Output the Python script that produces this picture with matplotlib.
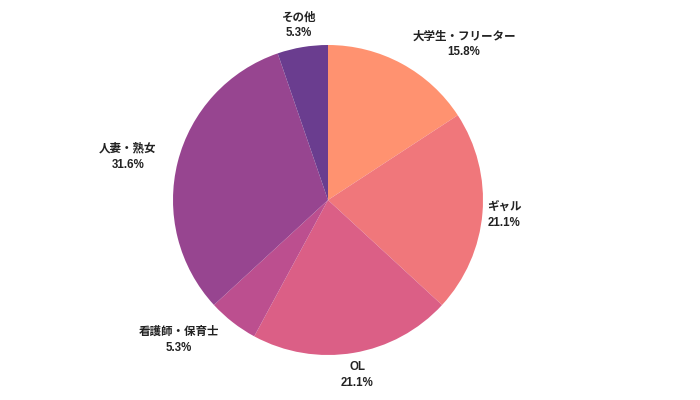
import numpy as np
import matplotlib
matplotlib.use("Agg")
import matplotlib.pyplot as plt

plt.rcParams['font.family'] = ['Liberation Sans', 'Noto Sans CJK JP', 'DejaVu Sans']

categories = ["大学生・フリーター", "ギャル", "OL", "看護師・保育士", "人妻・熟女", "その他"]
values = [3, 4, 4, 1, 6, 1]
colors = ["#FF9270", "#F0777B", "#DB5F86", "#BC4F8F", "#974590", "#6A3D8F"]
aligns = ["left", "center", "center", "right", "right", "center"]

fig = plt.figure(figsize=(7, 4), dpi=100)
ax = fig.add_axes([173 / 700, 45 / 400, 310 / 700, 310 / 400])
ax.pie(values, colors=colors, startangle=90, counterclock=False, radius=1.0,
       wedgeprops=dict(linewidth=0))
ax.set_xlim(-1, 1)
ax.set_ylim(-1, 1)
ax.set_aspect('equal')
ax.axis('off')

total = sum(values)
cum = 0
r_lab = 177 / 155
for cat, v, ha in zip(categories, values, aligns):
    mid = (cum + v / 2) / total
    cum += v
    theta = np.deg2rad(90 - 360 * mid)
    x = r_lab * np.cos(theta)
    y = r_lab * np.sin(theta)
    pct = 100 * v / total
    ax.text(x, y, f"{cat}\n{pct:.1f}%", ha=ha, va='center', multialignment='center',
            fontsize=8.3, fontweight='bold', color='#222222', linespacing=1.45)

fig.savefig("out.png", dpi=100)
